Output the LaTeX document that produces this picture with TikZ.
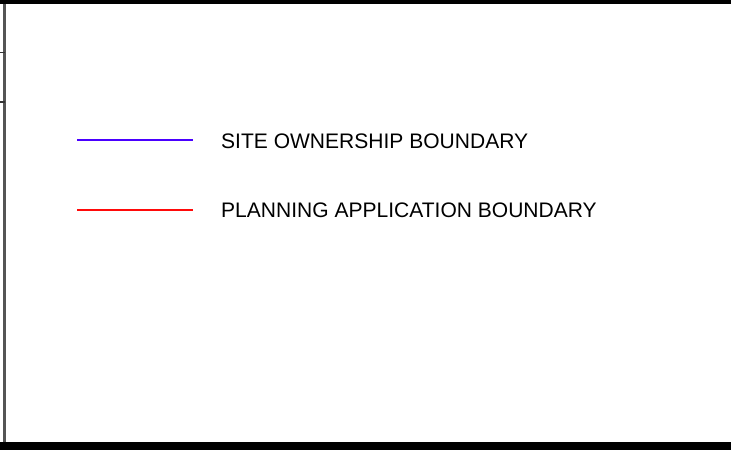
\documentclass[tikz,border=0pt]{standalone}
\usepackage{fontspec}
\setmainfont{Liberation Sans}
\definecolor{ownblue}{HTML}{4A00FF}
\definecolor{appred}{HTML}{FF0A0A}
\definecolor{frameg}{HTML}{555555}
\begin{document}
\begin{tikzpicture}[x=1pt,y=1pt,
  legendline/.style={line width=2.2pt},
  legendtext/.style={anchor=base west,inner sep=0pt,font=\fontsize{21.03}{24}\selectfont},
  band/.style={fill=black,draw=none}]
\useasboundingbox (0,0) rectangle (731,450);
\fill[white] (0,0) rectangle (731,450);
% frame bands
\path[band] (0,445.6) rectangle (731,450);
\path[band] (0,0) rectangle (731,8);
% left border
\draw[frameg,line width=2.4pt] (4.6,8) -- (4.6,445.6);
\draw[black!80,line width=1.2pt] (0,397.4) -- (4.6,397.4);
\draw[black!80,line width=1.2pt] (0,348) -- (4.6,348);
% legend
\coordinate (b1) at (77,310.3);
\coordinate (b2) at (193,310.3);
\coordinate (r1) at (77,240);
\coordinate (r2) at (193,240);
\draw[legendline,ownblue] (b1) -- (b2);
\draw[legendline,appred] (r1) -- (r2);
\node[legendtext] (own) at (221,301.4) {SITE OWNERSHIP BOUNDARY};
\node[legendtext] (app) at (221,232.2) {PLANNING APPLICATION BOUNDARY};
\end{tikzpicture}
\end{document}
